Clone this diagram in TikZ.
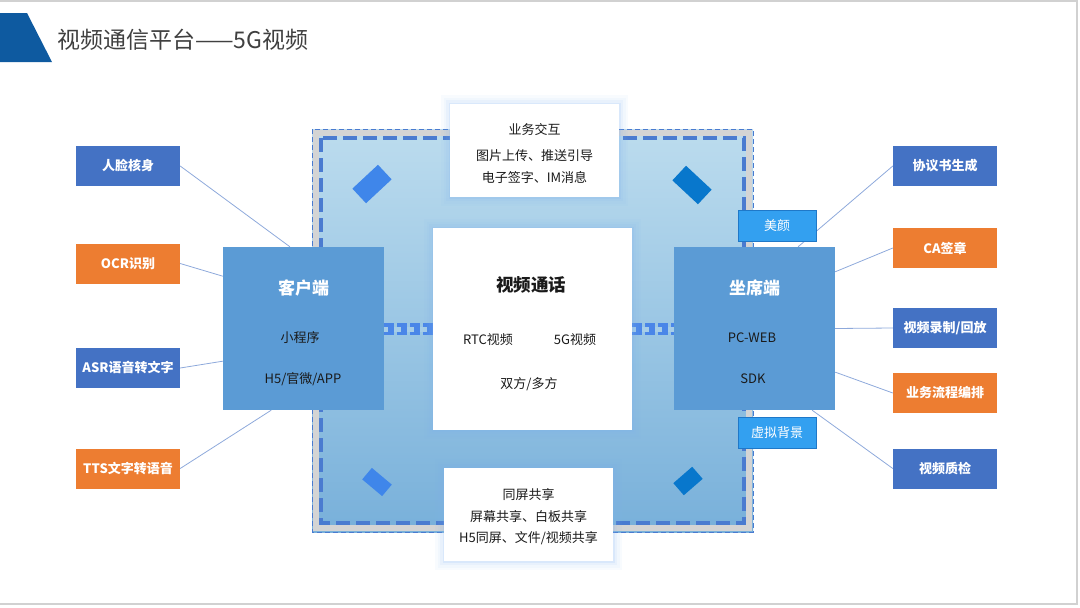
\documentclass[tikz,border=0pt]{standalone}
\usepackage{fontspec}
\setmainfont{Noto Sans CJK SC}
\usetikzlibrary{calc}
\definecolor{titleblue}{HTML}{0E5AA0}
\definecolor{titletext}{HTML}{404040}
\definecolor{fblue}{HTML}{4472C4}
\definecolor{forange}{HTML}{ED7D31}
\definecolor{endblue}{HTML}{5B9BD5}
\definecolor{tagblue}{HTML}{33A0F0}
\definecolor{tagborder}{HTML}{1F78C8}
\definecolor{linkc}{HTML}{8EA9DB}
\definecolor{regtop}{HTML}{BCDCEE}
\definecolor{regbot}{HTML}{78B0DA}
\definecolor{regmid}{HTML}{A6CDE8}
\definecolor{dashblue}{HTML}{4A7BD0}
\definecolor{greyband}{HTML}{D4D4D4}
\definecolor{diamA}{HTML}{3F86EA}
\definecolor{diamB}{HTML}{0877CC}
\definecolor{glowc}{HTML}{7FB2F0}
\definecolor{textdark}{HTML}{1A1A1A}
\definecolor{connblue}{HTML}{4A86E8}
\begin{document}
\begin{tikzpicture}[x=1pt,y=-1pt,
  feat/.style={minimum width=104pt, minimum height=40pt, inner sep=0pt, text=white, font=\bfseries\fontsize{13}{15}\selectfont},
  bluefeat/.style={feat, fill=fblue},
  orfeat/.style={feat, fill=forange},
  endbox/.style={fill=endblue, minimum width=161pt, minimum height=163pt, inner sep=0pt},
  lbl/.style={inner sep=0pt, text=textdark, font=\fontsize{13}{15}\selectfont},
  headlbl/.style={inner sep=0pt, text=white, font=\bfseries\fontsize{17}{19}\selectfont},
  tagbox/.style={fill=tagblue, draw=tagborder, line width=0.8pt, minimum width=78pt, minimum height=31pt, inner sep=0pt, text=white, font=\fontsize{13}{15}\selectfont},
  glow/.style={preaction={draw=glowc, line width=18pt, opacity=0.05, rounded corners=6pt},
               preaction={draw=glowc, line width=13pt, opacity=0.06, rounded corners=4pt},
               preaction={draw=glowc, line width=8pt, opacity=0.08, rounded corners=2pt},
               preaction={draw=glowc, line width=3pt, opacity=0.15}},
  wbox/.style={fill=white, glow, inner sep=0pt},
  link/.style={draw=linkc, line width=0.8pt},
  diam/.style={inner sep=0pt},
  dband/.style={draw=connblue, line width=12pt, dash pattern=on 10pt off 3pt},
  dnotch/.style={draw=regmid, line width=5pt, dash pattern=on 6.5pt off 6.5pt, dash phase=3pt}
]
\useasboundingbox (0,0) rectangle (1080,608);
% slide frame
\draw[draw=black!18, line width=2pt] (0,1) -- (1077,1) -- (1077,604) -- (0,604);
% title
\fill[titleblue] (0,13) -- (27,13) -- (52,62) -- (0,62) -- cycle;
\node[anchor=west, inner sep=0pt, text=titletext, font=\fontsize{23}{25}\selectfont] (title) at (57,40) {视频通信平台——5G视频};

% region
\shade[top color=regtop, bottom color=regbot] (312,129) rectangle (753,532);
\draw[greyband, line width=6pt] (316,133) rectangle (749,528);
\draw[dashblue, line width=1pt, dash pattern=on 5pt off 3pt] (312,129) rectangle (753,532);
\draw[dashblue, line width=4pt, dash pattern=on 14pt off 6pt] (321,138) rectangle (744,523);

% diamonds
\node[diam, fill=diamA, minimum width=35pt, minimum height=20pt, rotate=43] (d1) at (372,184) {};
\node[diam, fill=diamB, minimum width=35pt, minimum height=20pt, rotate=-43] (d2) at (692,185) {};
\node[diam, fill=diamA, minimum width=26pt, minimum height=15pt, rotate=-40] (d3) at (377,482) {};
\node[diam, fill=diamB, minimum width=25pt, minimum height=16pt, rotate=41] (d4) at (688,481) {};

% white boxes
\node[wbox, minimum width=169pt, minimum height=93pt] (top) at (534.5,150.5) {};
\node[lbl] (top1) at (534.5,130) {业务交互};
\node[lbl] (top2) at (534.5,156) {图片上传、推送引导};
\node[lbl] (top3) at (534.5,177) {电子签字、IM消息};

\node[wbox, minimum width=169pt, minimum height=93pt] (bot) at (528.5,514.5) {};
\node[lbl] (bot1) at (528.5,495) {同屏共享};
\node[lbl] (bot2) at (528.5,517) {屏幕共享、白板共享};
\node[lbl] (bot3) at (528.5,538) {H5同屏、文件/视频共享};

% dashed links between client / center / seat (drawn under the boxes)
\coordinate (lA) at (384,329);
\coordinate (lB) at (433,329);
\coordinate (rA) at (632,329);
\coordinate (rB) at (674,329);
\draw[dband] (lA) -- (lB);
\draw[dnotch] (lA) -- (lB);
\draw[dband] (rA) -- (rB);
\draw[dnotch] (rA) -- (rB);

\node[wbox, minimum width=199pt, minimum height=202pt] (center) at (532.5,329) {};
\node[inner sep=0pt, text=textdark, font=\bfseries\fontsize{17.5}{19}\selectfont] (ctitle) at (531,285) {视频通话};
\node[lbl] (rtc) at (488,340) {RTC视频};
\node[lbl] (fiveg) at (575,340) {5G视频};
\node[lbl] (multi) at (529,384) {双方/多方};

% end boxes
\node[endbox] (client) at (303.5,328.5) {};
\node[headlbl] (clientt) at (303.5,288) {客户端};
\node[lbl] (mini) at (300,338) {小程序};
\node[lbl] (h5) at (303,379) {H5/官微/APP};

\node[endbox] (seat) at (754.5,328.5) {};
\node[headlbl] (seatt) at (754.5,288) {坐席端};
\node[lbl] (pcweb) at (752,338) {PC-WEB};
\node[lbl] (sdk) at (753,379) {SDK};

% left features
\node[bluefeat] (face) at (128,166) {人脸核身};
\node[orfeat] (ocr) at (128,263.5) {OCR识别};
\node[bluefeat] (asr) at (128,368) {ASR语音转文字};
\node[orfeat] (tts) at (128,468.5) {TTS文字转语音};

% right features
\node[bluefeat] (agree) at (945,166) {协议书生成};
\node[orfeat] (ca) at (945,248) {CA签章};
\node[bluefeat] (rec) at (945,328) {视频录制/回放};
\node[orfeat] (flow) at (945,393) {业务流程编排};
\node[bluefeat] (qc) at (945,468.5) {视频质检};

% links
\draw[link] (face.east) -- ($(client.north west)!0.416!(client.north east)$);
\draw[link] (ocr.east) -- ($(client.north west)!0.18!(client.south west)$);
\draw[link] (asr.east) -- ($(client.north west)!0.70!(client.south west)$);
\draw[link] (tts.east) -- ($(client.south west)!0.30!(client.south east)$);
\draw[link] (agree.west) -- ($(seat.north west)!0.77!(seat.north east)$);
\draw[link] (ca.west) -- ($(seat.north east)!0.153!(seat.south east)$);
\draw[link] (rec.west) -- ($(seat.north east)!0.5!(seat.south east)$);
\draw[link] (flow.west) -- ($(seat.north east)!0.767!(seat.south east)$);
\draw[link] (qc.west) -- ($(seat.south west)!0.857!(seat.south east)$);

% tags
\node[tagbox] (beauty) at (777,226) {美颜};
\node[tagbox] (vbg) at (777,433) {虚拟背景};
\end{tikzpicture}
\end{document}
